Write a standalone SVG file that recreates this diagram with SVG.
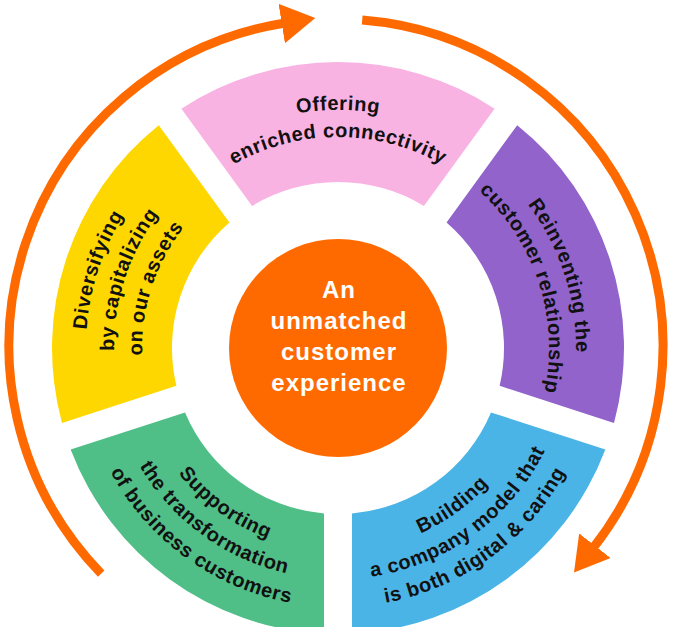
<svg xmlns="http://www.w3.org/2000/svg" xmlns:xlink="http://www.w3.org/1999/xlink" width="673" height="627" viewBox="0 0 673 627">
<style>
.seg{font-family:"Liberation Sans",Arial,sans-serif;font-weight:bold;font-size:20px;fill:#111;letter-spacing:0.6px}
.ctr{font-family:"Liberation Sans",Arial,sans-serif;font-weight:bold;font-size:24px;fill:#fff;letter-spacing:1px}
.arrow{fill:none;stroke:#FF6A00;stroke-width:9}
</style>
<defs>
<marker id="ah" markerUnits="userSpaceOnUse" viewBox="0 0 34 40" markerWidth="34" markerHeight="40" refX="2" refY="20" orient="auto">
<path d="M0,0 L34,20 L0,40 Z" fill="#FF6A00"/>
</marker>
<path id="cw238" d="M103.6,306.7 A238,238 0 0 1 572.4,306.7"/>
<path id="cw211" d="M130.2,311.4 A211,211 0 0 1 545.8,311.4"/>
<path id="cw252" d="M89.8,304.3 A252,252 0 0 1 586.2,304.3"/>
<path id="cw224" d="M117.4,309.1 A224,224 0 0 1 558.6,309.1"/>
<path id="cw196" d="M145.0,314.0 A196,196 0 0 1 531.0,314.0"/>
<path id="ccw203" d="M138.1,383.2 A203,203 0 0 0 537.9,383.2"/>
<path id="ccw231" d="M110.5,388.1 A231,231 0 0 0 565.5,388.1"/>
<path id="ccw259" d="M82.9,393.0 A259,259 0 0 0 593.1,393.0"/>
</defs>
<rect width="673" height="627" fill="#fff"/>
<g id="connectors">
<path class="arrow" d="M101.2,573.6 A327,327 0 0 1 283.7,23.2" marker-end="url(#ah)"/>
<path class="arrow" d="M362.2,20.05 A327,327 0 0 1 593.7,547.3" marker-end="url(#ah)"/>
</g>
<g id="pink">
<path d="M181.42,108.67 A286,286 0 0 1 494.58,108.67 L423.90,205.95 A166,166 0 0 0 252.10,205.95 Z" fill="#F9B3E3"/>
<text class="seg" text-anchor="middle"><textPath xlink:href="#cw238" startOffset="50%">Offering</textPath></text>
<text class="seg" text-anchor="middle"><textPath xlink:href="#cw211" startOffset="50%">enriched connectivity</textPath></text>
</g>
<g id="purple">
<path d="M517.23,125.13 A286,286 0 0 1 614.0,422.96 L499.64,385.80 A166,166 0 0 0 446.55,222.41 Z" fill="#9163CB"/>
<text class="seg" text-anchor="middle" transform="rotate(72 338 348)"><textPath xlink:href="#cw238" startOffset="50%">Reinventing the</textPath></text>
<text class="seg" text-anchor="middle" transform="rotate(72 338 348)"><textPath xlink:href="#cw211" startOffset="50%">customer relationship</textPath></text>
</g>
<g id="blue">
<path d="M605.35,449.59 A286,286 0 0 1 352.00,633.66 L352.00,513.41 A166,166 0 0 0 490.99,412.43 Z" fill="#4BB4E6"/>
<text class="seg" text-anchor="middle" transform="rotate(-36 338 348)"><textPath xlink:href="#ccw203" startOffset="50%">Building</textPath></text>
<text class="seg" text-anchor="middle" transform="rotate(-36 338 348)"><textPath xlink:href="#ccw231" startOffset="50%">a company model that</textPath></text>
<text class="seg" text-anchor="middle" transform="rotate(-36 338 348)"><textPath xlink:href="#ccw259" startOffset="50%">is both digital &amp; caring</textPath></text>
</g>
<g id="green">
<path d="M324.00,633.66 A286,286 0 0 1 70.65,449.59 L185.01,412.43 A166,166 0 0 0 324.00,513.41 Z" fill="#50BE87"/>
<text class="seg" text-anchor="middle" transform="rotate(36 338 348)"><textPath xlink:href="#ccw203" startOffset="50%">Supporting</textPath></text>
<text class="seg" text-anchor="middle" transform="rotate(36 338 348)"><textPath xlink:href="#ccw231" startOffset="50%">the transformation</textPath></text>
<text class="seg" text-anchor="middle" transform="rotate(36 338 348)"><textPath xlink:href="#ccw259" startOffset="50%">of business customers</textPath></text>
</g>
<g id="yellow">
<path d="M62.0,422.96 A286,286 0 0 1 158.77,125.13 L229.45,222.41 A166,166 0 0 0 176.36,385.80 Z" fill="#FFD700"/>
<text class="seg" text-anchor="middle" transform="rotate(-72 338 348)"><textPath xlink:href="#cw252" startOffset="50%">Diversifying</textPath></text>
<text class="seg" text-anchor="middle" transform="rotate(-72 338 348)"><textPath xlink:href="#cw224" startOffset="50%">by capitalizing</textPath></text>
<text class="seg" text-anchor="middle" transform="rotate(-72 338 348)"><textPath xlink:href="#cw196" startOffset="50%">on our assets</textPath></text>
</g>
<g id="center">
<circle cx="338" cy="348" r="109" fill="#FF6A00"/>
<text class="ctr" text-anchor="middle"><tspan x="339" y="298">An</tspan><tspan x="339" y="329">unmatched</tspan><tspan x="339" y="360">customer</tspan><tspan x="339" y="391">experience</tspan></text>
</g>
</svg>
